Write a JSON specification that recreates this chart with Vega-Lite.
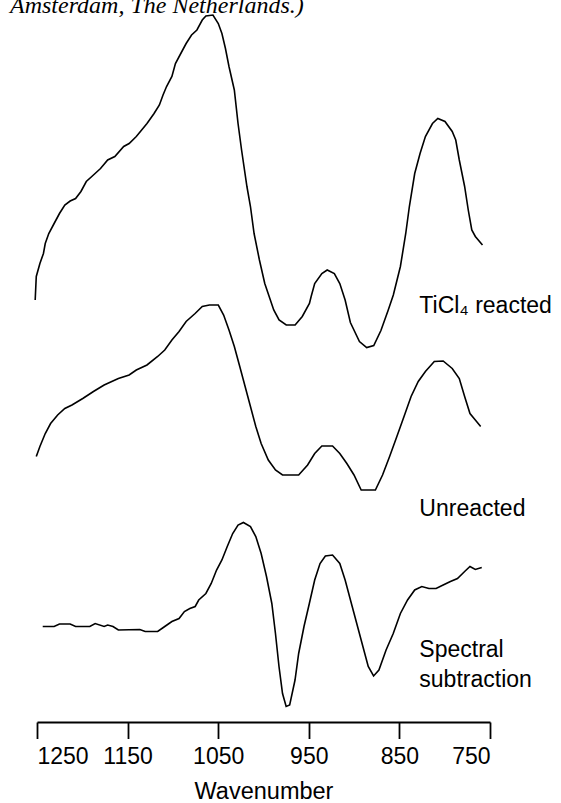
{
  "$schema": "https://vega.github.io/schema/vega-lite/v6.json",
  "autosize": {"type": "none"},
  "padding": {"left": 37, "top": 10, "right": 71, "bottom": 81},
  "width": 453,
  "height": 712,
  "background": "white",
  "title": {
    "text": "Amsterdam, The Netherlands.)",
    "anchor": "start",
    "frame": "group",
    "font": "Liberation Serif",
    "fontStyle": "italic",
    "fontWeight": "normal",
    "fontSize": 24,
    "baseline": "alphabetic",
    "offset": 2,
    "dx": -27,
    "dy": 28.5,
    "color": "black"
  },
  "config": {"view": {"stroke": null}},
  "datasets": {
    "spectra": [
      {"s":"T","wn":1252,"v":84.4},{"s":"T","wn":1250.8,"v":89.1},{"s":"T","wn":1246.8,"v":91.7},{"s":"T","wn":1242.9,"v":93.7},{"s":"T","wn":1240.9,"v":95.7},{"s":"T","wn":1237,"v":97.7},{"s":"T","wn":1231.1,"v":99.7},{"s":"T","wn":1225.2,"v":101.7},{"s":"T","wn":1219.3,"v":103.4},{"s":"T","wn":1213.4,"v":104.2},{"s":"T","wn":1207.4,"v":104.7},{"s":"T","wn":1201.5,"v":106.1},{"s":"T","wn":1195.6,"v":108.1},{"s":"T","wn":1187.7,"v":109.4},{"s":"T","wn":1179.9,"v":110.7},{"s":"T","wn":1172,"v":112.4},{"s":"T","wn":1164.1,"v":113.1},{"s":"T","wn":1154.3,"v":115.1},{"s":"T","wn":1148.3,"v":115.7},{"s":"T","wn":1140.4,"v":117.1},{"s":"T","wn":1134.5,"v":118.4},{"s":"T","wn":1128.6,"v":119.7},{"s":"T","wn":1120.8,"v":121.7},{"s":"T","wn":1114.9,"v":123.4},{"s":"T","wn":1110.9,"v":125.4},{"s":"T","wn":1107,"v":127.1},{"s":"T","wn":1101.1,"v":129.1},{"s":"T","wn":1097.2,"v":131.7},{"s":"T","wn":1091.3,"v":133.7},{"s":"T","wn":1085.4,"v":135.7},{"s":"T","wn":1079.4,"v":137.4},{"s":"T","wn":1073.5,"v":138.4},{"s":"T","wn":1067.6,"v":140.4},{"s":"T","wn":1063.6,"v":141.2},{"s":"T","wn":1055.8,"v":141.4},{"s":"T","wn":1049.9,"v":139.7},{"s":"T","wn":1045.9,"v":137.7},{"s":"T","wn":1042,"v":134.7},{"s":"T","wn":1038.1,"v":131.1},{"s":"T","wn":1032.2,"v":126.4},{"s":"T","wn":1028.1,"v":119.7},{"s":"T","wn":1024.2,"v":114.4},{"s":"T","wn":1018.3,"v":107.1},{"s":"T","wn":1014.4,"v":103.1},{"s":"T","wn":1010.4,"v":97.7},{"s":"T","wn":1004.5,"v":92.4},{"s":"T","wn":998.6,"v":87.7},{"s":"T","wn":988.7,"v":82.4},{"s":"T","wn":982.8,"v":80.4},{"s":"T","wn":974.9,"v":79.4},{"s":"T","wn":965.1,"v":79.4},{"s":"T","wn":957.2,"v":81.1},{"s":"T","wn":949.3,"v":83.7},{"s":"T","wn":947.4,"v":85.1},{"s":"T","wn":943.5,"v":87.7},{"s":"T","wn":935.6,"v":89.7},{"s":"T","wn":929.7,"v":90.4},{"s":"T","wn":921.8,"v":89.7},{"s":"T","wn":915.8,"v":87.7},{"s":"T","wn":909.9,"v":84.4},{"s":"T","wn":904.1,"v":79.9},{"s":"T","wn":894.1,"v":76.1},{"s":"T","wn":886.1,"v":74.9},{"s":"T","wn":878.3,"v":75.3},{"s":"T","wn":870.4,"v":78.3},{"s":"T","wn":862.5,"v":82.3},{"s":"T","wn":856.7,"v":85.4},{"s":"T","wn":848.9,"v":91.1},{"s":"T","wn":843,"v":97.7},{"s":"T","wn":839,"v":103.1},{"s":"T","wn":833.1,"v":109.7},{"s":"T","wn":827.2,"v":113.7},{"s":"T","wn":821.3,"v":117.1},{"s":"T","wn":813.5,"v":119.7},{"s":"T","wn":807.6,"v":120.7},{"s":"T","wn":799.7,"v":120.1},{"s":"T","wn":791.7,"v":118.1},{"s":"T","wn":787.8,"v":116.4},{"s":"T","wn":783.9,"v":112.4},{"s":"T","wn":778,"v":107.1},{"s":"T","wn":774,"v":102.4},{"s":"T","wn":770.1,"v":98.4},{"s":"T","wn":766.2,"v":97.1},{"s":"T","wn":758.3,"v":95.4},
      {"s":"U","wn":1250.8,"v":53.1},{"s":"U","wn":1246.8,"v":55.1},{"s":"U","wn":1240.9,"v":57.7},{"s":"U","wn":1235,"v":59.7},{"s":"U","wn":1227.2,"v":61.4},{"s":"U","wn":1219.3,"v":62.7},{"s":"U","wn":1211.4,"v":63.4},{"s":"U","wn":1199.5,"v":64.7},{"s":"U","wn":1187.7,"v":66.1},{"s":"U","wn":1175.9,"v":67.4},{"s":"U","wn":1160.2,"v":68.7},{"s":"U","wn":1148.3,"v":69.4},{"s":"U","wn":1140.4,"v":70.4},{"s":"U","wn":1128.6,"v":71.4},{"s":"U","wn":1116.8,"v":73.1},{"s":"U","wn":1109,"v":74.4},{"s":"U","wn":1101.1,"v":76.4},{"s":"U","wn":1093.2,"v":78.1},{"s":"U","wn":1085.4,"v":80.1},{"s":"U","wn":1075.5,"v":81.7},{"s":"U","wn":1067.6,"v":83.1},{"s":"U","wn":1059.7,"v":83.4},{"s":"U","wn":1049.9,"v":83.4},{"s":"U","wn":1044,"v":81.4},{"s":"U","wn":1038.1,"v":78.4},{"s":"U","wn":1032.2,"v":75.1},{"s":"U","wn":1026.2,"v":71.1},{"s":"U","wn":1020.3,"v":67.1},{"s":"U","wn":1014.4,"v":63.1},{"s":"U","wn":1008.5,"v":59.1},{"s":"U","wn":1002.6,"v":55.7},{"s":"U","wn":994.7,"v":52.4},{"s":"U","wn":986.8,"v":50.4},{"s":"U","wn":979,"v":49.4},{"s":"U","wn":961.2,"v":49.4},{"s":"U","wn":951.3,"v":51.4},{"s":"U","wn":943.5,"v":53.7},{"s":"U","wn":935.6,"v":55.2},{"s":"U","wn":923.8,"v":55.2},{"s":"U","wn":915.8,"v":53.7},{"s":"U","wn":908,"v":51.7},{"s":"U","wn":900.1,"v":49.4},{"s":"U","wn":892.2,"v":46.4},{"s":"U","wn":876.5,"v":46.4},{"s":"U","wn":868.6,"v":49.4},{"s":"U","wn":860.8,"v":53.1},{"s":"U","wn":852.8,"v":57.1},{"s":"U","wn":844.9,"v":61.1},{"s":"U","wn":837.1,"v":65.1},{"s":"U","wn":829.2,"v":68.1},{"s":"U","wn":821.3,"v":70.1},{"s":"U","wn":811.5,"v":72.1},{"s":"U","wn":801.7,"v":72.2},{"s":"U","wn":791.7,"v":70.7},{"s":"U","wn":783.9,"v":68.7},{"s":"U","wn":778,"v":65.1},{"s":"U","wn":772.1,"v":61.7},{"s":"U","wn":766.2,"v":60.4},{"s":"U","wn":760.3,"v":59.1},
      {"s":"S","wn":1243.7,"v":19.1},{"s":"S","wn":1231.1,"v":19.1},{"s":"S","wn":1225.2,"v":19.6},{"s":"S","wn":1213.4,"v":19.6},{"s":"S","wn":1207.4,"v":19.1},{"s":"S","wn":1191.7,"v":19.1},{"s":"S","wn":1185.8,"v":19.7},{"s":"S","wn":1175.9,"v":19.1},{"s":"S","wn":1172,"v":19.4},{"s":"S","wn":1166.1,"v":19.1},{"s":"S","wn":1160.2,"v":18.4},{"s":"S","wn":1136.5,"v":18.5},{"s":"S","wn":1130.6,"v":18.1},{"s":"S","wn":1116.8,"v":18.1},{"s":"S","wn":1109,"v":19.1},{"s":"S","wn":1101.1,"v":20.1},{"s":"S","wn":1093.2,"v":20.7},{"s":"S","wn":1087.3,"v":22.1},{"s":"S","wn":1081.3,"v":22.7},{"s":"S","wn":1075.4,"v":23.1},{"s":"S","wn":1071.5,"v":24.4},{"s":"S","wn":1063.6,"v":25.7},{"s":"S","wn":1057.7,"v":27.7},{"s":"S","wn":1051.8,"v":30.4},{"s":"S","wn":1045.9,"v":32.4},{"s":"S","wn":1040,"v":35.1},{"s":"S","wn":1034,"v":37.7},{"s":"S","wn":1028.1,"v":39.4},{"s":"S","wn":1022.2,"v":39.9},{"s":"S","wn":1014.4,"v":39.1},{"s":"S","wn":1008.5,"v":37.1},{"s":"S","wn":1002.6,"v":33.7},{"s":"S","wn":996.7,"v":29.1},{"s":"S","wn":990.8,"v":23.7},{"s":"S","wn":986.8,"v":17.7},{"s":"S","wn":982.9,"v":11.1},{"s":"S","wn":979,"v":5.7},{"s":"S","wn":975,"v":3.1},{"s":"S","wn":971.1,"v":3.4},{"s":"S","wn":965.2,"v":8.4},{"s":"S","wn":961.2,"v":13.7},{"s":"S","wn":955.3,"v":19.1},{"s":"S","wn":949.4,"v":23.7},{"s":"S","wn":943.5,"v":28.4},{"s":"S","wn":937.6,"v":31.7},{"s":"S","wn":931.7,"v":33.2},{"s":"S","wn":923.8,"v":33.4},{"s":"S","wn":915.8,"v":31.7},{"s":"S","wn":909.9,"v":28.4},{"s":"S","wn":902.1,"v":23.1},{"s":"S","wn":896.2,"v":19.1},{"s":"S","wn":890.3,"v":15.1},{"s":"S","wn":884.4,"v":11.1},{"s":"S","wn":878.5,"v":9.2},{"s":"S","wn":872.6,"v":10.4},{"s":"S","wn":864.7,"v":14.4},{"s":"S","wn":856.8,"v":17.7},{"s":"S","wn":848.9,"v":21.7},{"s":"S","wn":841,"v":24.4},{"s":"S","wn":833.1,"v":26.4},{"s":"S","wn":825.3,"v":27.1},{"s":"S","wn":817.4,"v":26.7},{"s":"S","wn":809.5,"v":26.7},{"s":"S","wn":801.7,"v":27.4},{"s":"S","wn":793.7,"v":28.1},{"s":"S","wn":785.9,"v":28.7},{"s":"S","wn":778,"v":30.1},{"s":"S","wn":772.1,"v":31.1},{"s":"S","wn":766.2,"v":30.5},{"s":"S","wn":759.1,"v":30.9}
    ],
    "labels": [
      {"wn": 828, "v": 81.8, "label": "TiCl₄ reacted"},
      {"wn": 828, "v": 41.2, "label": "Unreacted"},
      {"wn": 828, "v": 13.1, "label": "Spectral"},
      {"wn": 828, "v": 7.1, "label": "subtraction"}
    ]
  },
  "layer": [
    {
      "data": {"name": "spectra"},
      "mark": {"type": "line", "color": "black", "strokeWidth": 1.6, "strokeJoin": "miter"},
      "encoding": {
        "x": {
          "field": "wn", "type": "quantitative",
          "scale": {"domain": [1250, 750], "nice": false, "zero": false},
          "axis": {
            "title": "Wavenumber",
            "values": [1250, 1150, 1050, 950, 850, 750],
            "format": "d",
            "grid": false,
            "domainColor": "black", "domainWidth": 1.8,
            "tickColor": "black", "tickWidth": 1.8, "tickSize": 16.5,
            "labelPadding": 7,
            "labelFont": "Liberation Sans", "labelFontSize": 23, "labelColor": "black",
            "titleFont": "Liberation Sans", "titleFontSize": 23.5, "titleFontWeight": "normal",
            "titleColor": "black", "titleBaseline": "alphabetic", "titleY": 76
          }
        },
        "y": {
          "field": "v", "type": "quantitative",
          "scale": {"domain": [0, 142.4], "nice": false, "zero": false},
          "axis": null
        },
        "detail": {"field": "s", "type": "nominal"}
      }
    },
    {
      "data": {"name": "labels"},
      "mark": {"type": "text", "align": "left", "baseline": "alphabetic", "font": "Liberation Sans", "fontSize": 23, "color": "black"},
      "encoding": {
        "x": {"field": "wn", "type": "quantitative"},
        "y": {"field": "v", "type": "quantitative"},
        "text": {"field": "label", "type": "nominal"}
      }
    }
  ]
}
